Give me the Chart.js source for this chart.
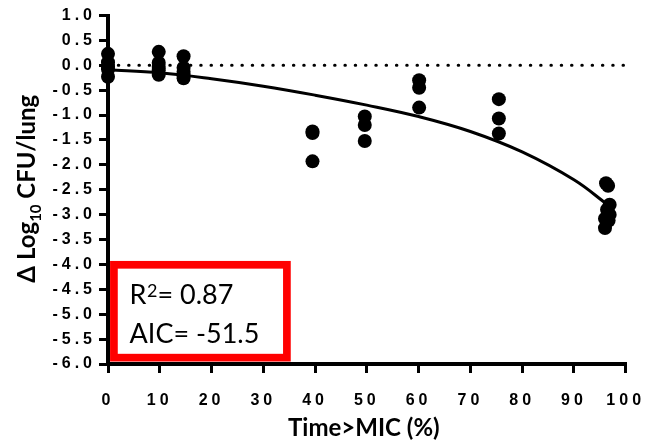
<!DOCTYPE html>
<html>
<head>
<meta charset="utf-8">
<script src="https://cdn.jsdelivr.net/npm/chart.js@4"></script>
<style>
  html, body { margin: 0; padding: 0; background: #ffffff; }
  #c { display: block; }
</style>
</head>
<body>
<canvas id="c" width="646" height="442"></canvas>
<script>
// Observed change in lung burden vs. %T>MIC
const obsTime = [
  0, 0, 0, 0, 0,
  9.8, 9.8, 9.8, 9.8, 9.8,
  14.6, 14.6, 14.6, 14.6, 14.6,
  39.5, 39.5, 39.5,
  49.6, 49.6, 49.6,
  60.1, 60.1, 60.1,
  75.5, 75.5, 75.5,
  96.2, 96.6, 96.9, 96.4, 96.9, 96.0, 96.7, 96.0
];
const obsDelta = [
  0.23, 0.06, -0.02, -0.08, -0.23,
  0.27, 0.05, -0.03, -0.10, -0.19,
  0.18, -0.05, -0.13, -0.20, -0.26,
  -1.33, -1.36, -1.93,
  -1.03, -1.20, -1.52,
  -0.30, -0.45, -0.85,
  -0.68, -1.07, -1.37,
  -2.37, -2.42, -2.80, -2.90, -3.00, -3.08, -3.12, -3.27
];

// Fitted curve, read at regular steps along the line
const fitTime  = [0, 10, 20, 30, 40, 50, 60, 70, 80, 90, 96.5];
const fitDelta = [-0.09, -0.15, -0.27, -0.42, -0.60, -0.80, -1.03, -1.33, -1.74, -2.30, -2.80];

// Zero reference line
const baselineTime  = [0, 100];
const baselineDelta = [0, 0];

// Axis ticks
const xTickValues = [0, 10, 20, 30, 40, 50, 60, 70, 80, 90, 100];
const xTickLabels = ['0', '10', '20', '30', '40', '50', '60', '70', '80', '90', '100'];
const yTickValues = [1.0, 0.5, 0.0, -0.5, -1.0, -1.5, -2.0, -2.5, -3.0, -3.5, -4.0, -4.5, -5.0, -5.5, -6.0];
const yTickLabels = ['1.0', '0.5', '0.0', '-0.5', '-1.0', '-1.5', '-2.0', '-2.5', '-3.0', '-3.5', '-4.0', '-4.5', '-5.0', '-5.5', '-6.0'];

// Goodness-of-fit values
const rSquared = '0.87';
const aicValue = '-51.5';

const pairs = (xs, ys) => xs.map((x, i) => ({ x: x, y: ys[i] }));

const TICK_FONT = { family: "'Liberation Sans', Arial, sans-serif", size: 16, weight: 'bold' };
const TITLE_FAMILY = "Lato, 'Open Sans', sans-serif";

// Text overlays: axis titles and the fit-statistics box
const overlayPlugin = {
  id: 'overlay',
  beforeDraw(chart) {
    // spaced-out tick numerals
    chart.ctx.letterSpacing = '4px';
  },
  afterDraw(chart) {
    const ctx = chart.ctx;
    const area = chart.chartArea;
    const xs = chart.scales.x, ys = chart.scales.y;
    ctx.save();
    ctx.letterSpacing = '0px';
    ctx.fillStyle = '#000';
    ctx.textBaseline = 'alphabetic';

    // x-axis title
    ctx.font = `bold 24px ${TITLE_FAMILY}`;
    ctx.textAlign = 'center';
    ctx.fillText('Time>MIC (%)', (area.left + area.right) / 2 - 3, area.bottom + 72);

    // y-axis title with subscript
    const parts = [
      { t: '\u0394 Log', f: `bold 24px ${TITLE_FAMILY}`, dy: 0 },
      { t: '10', f: `bold 15px ${TITLE_FAMILY}`, dy: 6 },
      { t: ' CFU/lung', f: `bold 24px ${TITLE_FAMILY}`, dy: 0 }
    ];
    let total = 0;
    parts.forEach(p => { ctx.font = p.f; p.w = ctx.measureText(p.t).width; total += p.w; });
    ctx.save();
    ctx.translate(35, (area.top + area.bottom) / 2 - 1);
    ctx.rotate(-Math.PI / 2);
    ctx.textAlign = 'left';
    let cx = -total / 2;
    parts.forEach(p => { ctx.font = p.f; ctx.fillText(p.t, cx, p.dy); cx += p.w; });
    ctx.restore();

    // statistics box
    const bx0 = xs.getPixelForValue(0.4), bx1 = xs.getPixelForValue(35.3);
    const by0 = ys.getPixelForValue(-3.93), by1 = ys.getPixelForValue(-5.95);
    const bw = 7.7;
    ctx.strokeStyle = '#ff0000';
    ctx.lineWidth = bw;
    ctx.strokeRect(bx0 + bw / 2, by0 + bw / 2, bx1 - bx0 - bw, by1 - by0 - bw);

    ctx.textAlign = 'left';
    const tx = bx0 + 19.5;
    let x = tx;
    ctx.font = `27px ${TITLE_FAMILY}`;
    ctx.fillText('R', x, by0 + 42.6);
    x += ctx.measureText('R').width + 0.5;
    ctx.font = `18px ${TITLE_FAMILY}`;
    ctx.fillText('2', x, by0 + 42.6 - 7);
    x += ctx.measureText('2').width;
    ctx.font = `27px ${TITLE_FAMILY}`;
    ctx.fillText('= ' + rSquared, x, by0 + 42.6);
    ctx.fillText('AIC= ' + aicValue, tx, by0 + 82);
    ctx.restore();
  }
};

new Chart(document.getElementById('c'), {
  type: 'scatter',
  data: {
    datasets: [
      {
        data: pairs(obsTime, obsDelta),
        backgroundColor: '#000',
        borderWidth: 0,
        pointRadius: 7,
        pointHoverRadius: 7,
        clip: false,
        order: 0
      },
      {
        type: 'line',
        data: pairs(fitTime, fitDelta),
        borderColor: '#000',
        borderWidth: 3,
        pointRadius: 0,
        fill: false,
        tension: 0.4,
        order: 1
      },
      {
        type: 'line',
        data: pairs(baselineTime, baselineDelta),
        borderColor: '#000',
        borderWidth: 3,
        borderDash: [0.5, 9.8],
        borderCapStyle: 'round',
        pointRadius: 0,
        fill: false,
        order: 2
      }
    ]
  },
  options: {
    responsive: false,
    devicePixelRatio: 1,
    animation: false,
    events: [],
    layout: { padding: { top: 15.5, right: 20.3, left: 0, bottom: 0 } },
    plugins: { legend: { display: false }, tooltip: { enabled: false } },
    scales: {
      x: {
        type: 'linear',
        min: 0,
        max: 100,
        afterBuildTicks: s => { s.ticks = xTickValues.map(v => ({ value: v })); },
        afterFit: s => { s.height = 78; s.paddingLeft = 0; s.paddingRight = 0; },
        ticks: {
          color: '#000',
          font: TICK_FONT,
          padding: 18,
          maxRotation: 0,
          callback: (v) => xTickLabels[xTickValues.indexOf(v)]
        },
        grid: { drawOnChartArea: false, drawTicks: true, tickLength: 9, lineWidth: 3, color: '#000' },
        border: { display: true, width: 4, color: '#000' }
      },
      y: {
        type: 'linear',
        min: -6,
        max: 1,
        afterBuildTicks: s => { s.ticks = yTickValues.map(v => ({ value: v })); },
        afterFit: s => { s.width = 108; },
        ticks: {
          color: '#000',
          font: TICK_FONT,
          padding: 3,
          callback: (v) => yTickLabels[yTickValues.indexOf(v)]
        },
        grid: { drawOnChartArea: false, drawTicks: true, tickLength: 9, lineWidth: 3, color: '#000' },
        border: { display: true, width: 4, color: '#000' }
      }
    }
  },
  plugins: [overlayPlugin]
});
</script>
</body>
</html>
